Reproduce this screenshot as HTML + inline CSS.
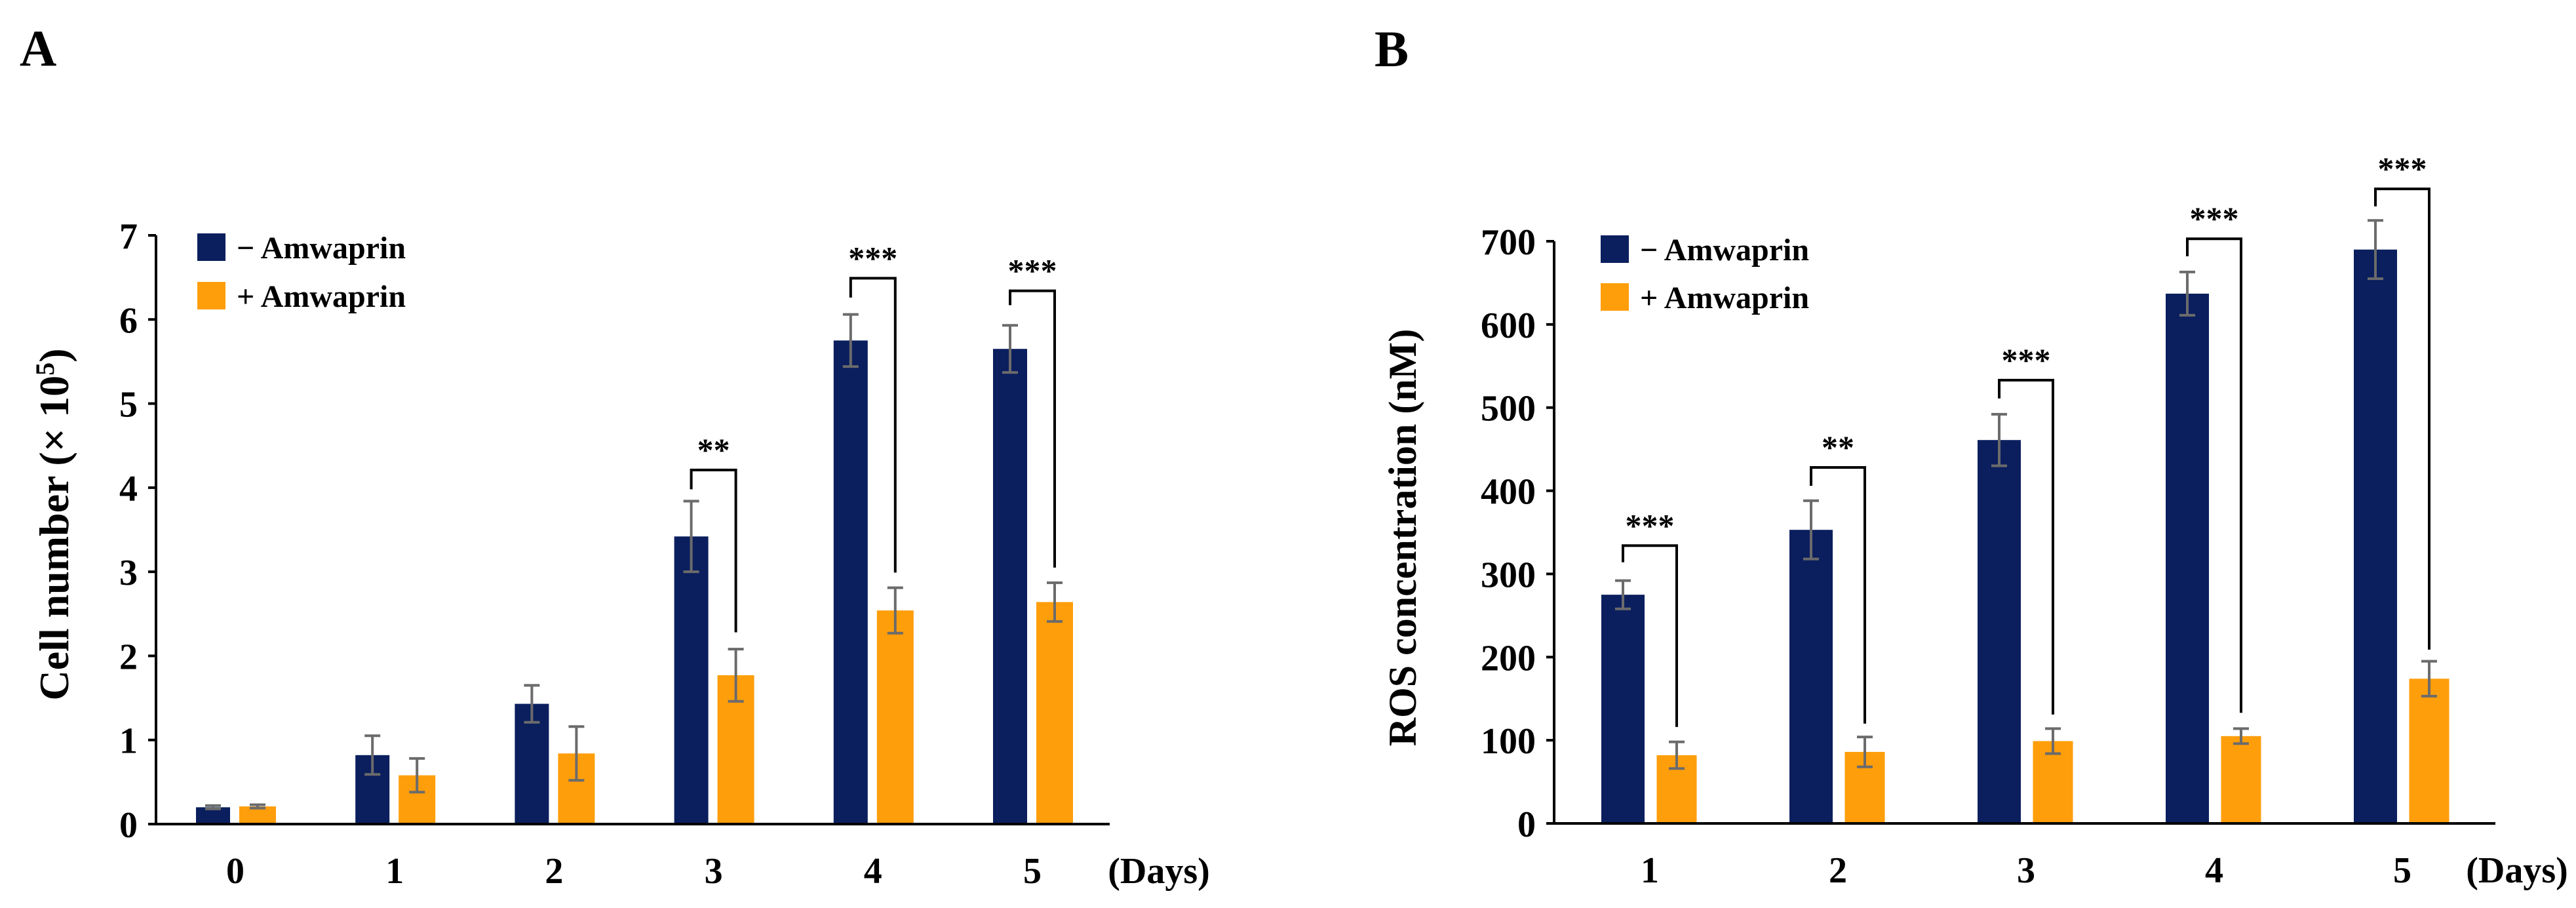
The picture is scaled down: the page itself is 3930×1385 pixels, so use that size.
<!DOCTYPE html>
<html><head><meta charset="utf-8"><style>
html,body{margin:0;padding:0;background:#fff;}
svg{display:block;font-family:"Liberation Serif",serif;font-weight:bold;}
</style></head><body>
<svg id="fig" width="3930" height="1385" viewBox="0 0 3930 1385" xmlns="http://www.w3.org/2000/svg">
<text x="30" y="100" font-size="78">A</text>
<text x="2097" y="101" font-size="78">B</text>
</svg>
<script>
// Panel A data
const catsA = ["0","1","2","3","4","5"];
const minusA = [0.2,0.82,1.43,3.42,5.75,5.65];
const minusErrA = [0.02,0.23,0.22,0.42,0.31,0.28];
const plusA = [0.21,0.58,0.84,1.77,2.54,2.64];
const plusErrA = [0.02,0.2,0.32,0.31,0.27,0.23];
const ticksA = [0,1,2,3,4,5,6,7];
const sigIdxA = [3,4,5];
const sigLabelA = ["**","***","***"];
const sigTopA = [4.21,6.49,6.34];
const sigLeftA = [3.98,6.26,6.17];
const sigRightA = [2.28,2.99,3.05];
// Panel B data
const catsB = ["1","2","3","4","5"];
const minusB = [275,353,461,637,690];
const minusErrB = [17,35,31,26,35];
const plusB = [82,86,99,105,174];
const plusErrB = [16,18,15,9,21];
const ticksB = [0,100,200,300,400,500,600,700];
const sigIdxB = [0,1,2,3,4];
const sigLabelB = ["***","**","***","***","***"];
const sigTopB = [334,428,533,703,763];
const sigLeftB = [314,406,511,682,742];
const sigRightB = [116,120,131,133,209];

const svg = document.getElementById('fig');
const NS = "http://www.w3.org/2000/svg";
function mk(tag, attrs, parent){const e=document.createElementNS(NS,tag);for(const k in attrs)e.setAttribute(k,attrs[k]);(parent||svg).appendChild(e);return e;}

function panel(cfg){
  const g = mk('g',{});
  
  
  const y = v => cfg.y0 - (v - cfg.vmin)/(cfg.vmax - cfg.vmin)*(cfg.y0 - cfg.yTop);
  const cx = i => cfg.firstX + i*cfg.step;
  cfg.cats.forEach((c,i)=>{
    [[cfg.minus,cfg.minusErr,-cfg.off,cfg.wN,'#0b1f5e','bar-minus-day-'+c],[cfg.plus,cfg.plusErr,cfg.off,cfg.wP,'#ff9e0b','bar-plus-day-'+c]].forEach(s=>{
      const v=s[0][i], e=s[1][i], xc=cx(i)+s[2];
      const r=mk('rect',{x:xc-s[3]/2,y:y(v),width:s[3],height:cfg.y0-y(v),fill:s[4]},g);
      
      
      const eb=mk('path',{d:`M${xc},${y(v+e)}V${y(v-e)}M${xc-12},${y(v+e)}h24M${xc-12},${y(v-e)}h24`,stroke:'#6b6b6b','stroke-width':4,fill:'none'},g);
      
      
    });
  });
  const ax=mk('path',{d:`M${cfg.axX},${y(cfg.ticks[cfg.ticks.length-1])}V${cfg.y0}H${cfg.axEnd}`,stroke:'#000','stroke-width':4,fill:'none'},g);
  
  
  cfg.ticks.forEach(t=>{
    mk('line',{x1:cfg.axX-12,x2:cfg.axX,y1:y(t),y2:y(t),stroke:'#000','stroke-width':4},g);
    const tl=mk('text',{x:cfg.axX-28,y:y(t)+20,'font-size':56,'text-anchor':'end'},g);
    tl.textContent=t;
    
    
  });
  cfg.cats.forEach((c,i)=>{
    const tl=mk('text',{x:cx(i),y:cfg.y0+90,'font-size':56,'text-anchor':'middle'},g);
    tl.textContent=c;
    
    
  });
  const d=mk('text',{x:cfg.daysX,y:cfg.y0+90,'font-size':56,'text-anchor':'middle'},g);
  d.textContent='(Days)';
  
  
  const yt=mk('text',{x:0,y:0,'font-size':cfg.ytSize,'text-anchor':'middle',transform:`translate(${cfg.ytX},${cfg.ytY}) rotate(-90)`},g);
  yt.innerHTML=cfg.ytitle;
  
  
  cfg.sigIdx.forEach((i,k)=>{
    const xl=cx(i)-cfg.off, xr=cx(i)+cfg.off;
    const p=mk('path',{d:`M${xl},${y(cfg.sigLeft[k])}V${y(cfg.sigTop[k])}H${xr}V${y(cfg.sigRight[k])}`,stroke:'#000','stroke-width':4,fill:'none'},g);
    
    
    const s=mk('text',{x:(xl+xr)/2,y:y(cfg.sigTop[k])-14,'font-size':50,'text-anchor':'middle'},g);
    s.textContent=cfg.sigLabel[k];
    
    
  });
  [['#0b1f5e','\u2212 Amwaprin',cfg.legY1,'legend-minus-amwaprin'],['#ff9e0b','+ Amwaprin',cfg.legY2,'legend-plus-amwaprin']].forEach(l=>{
    const lg=mk('g',{},g);
    
    
    mk('rect',{x:cfg.legX,y:l[2]-21,width:43,height:42,fill:l[0]},lg);
    const t=mk('text',{x:cfg.legX+60,y:l[2]+17,'font-size':48},lg);
    t.textContent=l[1];
  });
}

panel({name:'chart-a-cell-number',cats:catsA,minus:minusA,minusErr:minusErrA,plus:plusA,plusErr:plusErrA,ticks:ticksA,
  vmin:0,vmax:7,y0:1257,yTop:359,firstX:359,step:243.2,off:34,wN:52,wP:56,axX:238,axEnd:1693,daysX:1768,
  ytitle:'Cell number (× 10<tspan baseline-shift="super" font-size="40">5</tspan>)',ytSize:64,ytX:104,ytY:800,
  sigIdx:sigIdxA,sigLabel:sigLabelA,sigTop:sigTopA,sigLeft:sigLeftA,sigRight:sigRightA,legX:301,legY1:377,legY2:451});
panel({name:'chart-b-ros-concentration',cats:catsB,minus:minusB,minusErr:minusErrB,plus:plusB,plusErr:plusErrB,ticks:ticksB,
  vmin:0,vmax:700,y0:1256,yTop:368,firstX:2517,step:287,off:41,wN:66,wP:61,axX:2371,axEnd:3807,daysX:3840,
  ytitle:'ROS concentration (nM)',ytSize:60,ytX:2160,ytY:820,
  sigIdx:sigIdxB,sigLabel:sigLabelB,sigTop:sigTopB,sigLeft:sigLeftB,sigRight:sigRightB,legX:2442,legY1:380,legY2:453});
</script>
</body></html>
